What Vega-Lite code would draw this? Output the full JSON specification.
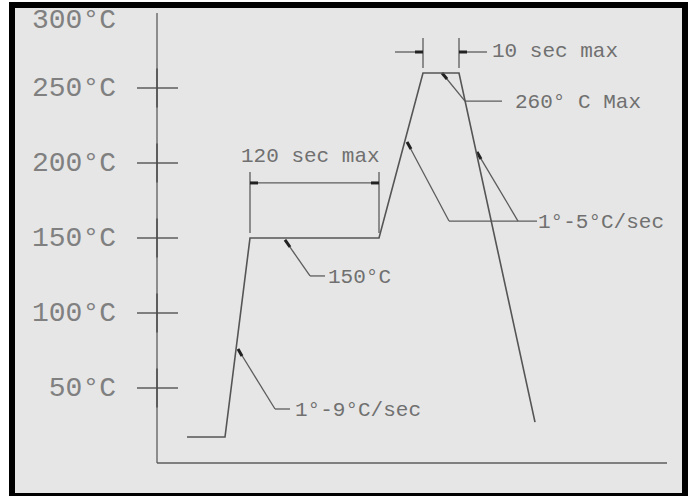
{
  "$schema": "https://vega.github.io/schema/vega-lite/v6.json",
  "width": 673,
  "height": 491,
  "autosize": {"type": "none"},
  "padding": {"left": 12, "top": 5, "right": 6, "bottom": 0},
  "background": "#ffffff",
  "config": {"view": {"fill": "#e6e6e6", "stroke": "#000000", "strokeWidth": 6}},
  "datasets": {
    "profile": [
      {"i": 1, "t": 30, "temp": 17.3},
      {"i": 2, "t": 68, "temp": 17.3},
      {"i": 3, "t": 93, "temp": 150},
      {"i": 4, "t": 222, "temp": 150},
      {"i": 5, "t": 266, "temp": 260},
      {"i": 6, "t": 302, "temp": 260},
      {"i": 7, "t": 378, "temp": 27.3}
    ],
    "segs": [
      {"t": 0, "temp": 0, "t2": 0, "temp2": 300},
      {"t": 0, "temp": 0, "t2": 510, "temp2": 0},
      {"t": -20, "temp": 50, "t2": 21, "temp2": 50},
      {"t": -20, "temp": 100, "t2": 21, "temp2": 100},
      {"t": -20, "temp": 150, "t2": 21, "temp2": 150},
      {"t": -20, "temp": 200, "t2": 21, "temp2": 200},
      {"t": -20, "temp": 250, "t2": 21, "temp2": 250},
      {"t": 93, "temp": 194, "t2": 93, "temp2": 153.3},
      {"t": 222, "temp": 194, "t2": 222, "temp2": 153.3},
      {"t": 93, "temp": 186.7, "t2": 222, "temp2": 186.7},
      {"t": 128, "temp": 148.7, "t2": 153, "temp2": 124.7},
      {"t": 153, "temp": 124.7, "t2": 168, "temp2": 124.7},
      {"t": 81, "temp": 76, "t2": 118, "temp2": 36},
      {"t": 118, "temp": 36, "t2": 133, "temp2": 36},
      {"t": 250, "temp": 214, "t2": 292, "temp2": 161.3},
      {"t": 292, "temp": 161.3, "t2": 380, "temp2": 161.3},
      {"t": 320, "temp": 207.3, "t2": 361, "temp2": 161.3},
      {"t": 285, "temp": 260, "t2": 308, "temp2": 241.3},
      {"t": 308, "temp": 241.3, "t2": 345, "temp2": 241.3},
      {"t": 266, "temp": 283.3, "t2": 266, "temp2": 263.3},
      {"t": 302, "temp": 283.3, "t2": 302, "temp2": 263.3},
      {"t": 238, "temp": 274, "t2": 266, "temp2": 274},
      {"t": 302, "temp": 274, "t2": 330, "temp2": 274}
    ],
    "heads": [
      {"t": 93, "temp": 186.7, "t2": 101, "temp2": 186.7},
      {"t": 214, "temp": 186.7, "t2": 222, "temp2": 186.7},
      {"t": 128, "temp": 148.7, "t2": 133, "temp2": 144},
      {"t": 81, "temp": 76, "t2": 85, "temp2": 71.3},
      {"t": 250, "temp": 214, "t2": 254, "temp2": 209.3},
      {"t": 320, "temp": 207.3, "t2": 324, "temp2": 202.7},
      {"t": 285, "temp": 260, "t2": 290, "temp2": 256},
      {"t": 258, "temp": 274, "t2": 266, "temp2": 274},
      {"t": 302, "temp": 274, "t2": 310, "temp2": 274}
    ],
    "axisdark": [
      {"t": 0, "temp": 37, "t2": 0, "temp2": 63},
      {"t": 0, "temp": 87, "t2": 0, "temp2": 113},
      {"t": 0, "temp": 137, "t2": 0, "temp2": 163},
      {"t": 0, "temp": 187, "t2": 0, "temp2": 213},
      {"t": 0, "temp": 237, "t2": 0, "temp2": 263}
    ],
    "ylabels": [
      {"t": -41, "temp": 295.3, "label": "300°C"},
      {"t": -41, "temp": 250, "label": "250°C"},
      {"t": -41, "temp": 200, "label": "200°C"},
      {"t": -41, "temp": 150, "label": "150°C"},
      {"t": -41, "temp": 100, "label": "100°C"},
      {"t": -41, "temp": 50, "label": "50°C"}
    ],
    "notes": [
      {"t": 84, "temp": 204.7, "label": "120 sec max"},
      {"t": 171, "temp": 124, "label": "150°C"},
      {"t": 138, "temp": 35.3, "label": "1°-9°C/sec"},
      {"t": 381, "temp": 160.7, "label": "1°-5°C/sec"},
      {"t": 358, "temp": 240.7, "label": "260° C Max"},
      {"t": 335, "temp": 274.7, "label": "10 sec max"}
    ]
  },
  "encoding": {
    "x": {"field": "t", "type": "quantitative", "scale": {"domain": [-145, 528], "nice": false, "zero": false}, "axis": null},
    "y": {"field": "temp", "type": "quantitative", "scale": {"domain": [-22, 305.333], "nice": false, "zero": false}, "axis": null}
  },
  "layer": [
    {
      "data": {"name": "segs"},
      "mark": {"type": "rule", "color": "#5c5c5c", "strokeWidth": 1.3},
      "encoding": {"x2": {"field": "t2"}, "y2": {"field": "temp2"}}
    },
    {
      "data": {"name": "axisdark"},
      "mark": {"type": "rule", "color": "#484848", "strokeWidth": 1.4},
      "encoding": {"x2": {"field": "t2"}, "y2": {"field": "temp2"}}
    },
    {
      "data": {"name": "heads"},
      "mark": {"type": "rule", "color": "#222222", "strokeWidth": 3},
      "encoding": {"x2": {"field": "t2"}, "y2": {"field": "temp2"}}
    },
    {
      "data": {"name": "profile"},
      "mark": {"type": "line", "color": "#555555", "strokeWidth": 1.6},
      "encoding": {"order": {"field": "i", "type": "quantitative"}}
    },
    {
      "data": {"name": "ylabels"},
      "mark": {"type": "text", "align": "right", "baseline": "middle", "font": "Liberation Mono", "fontSize": 28, "color": "#808080"},
      "encoding": {"text": {"field": "label"}}
    },
    {
      "data": {"name": "notes"},
      "mark": {"type": "text", "align": "left", "baseline": "middle", "font": "Liberation Mono", "fontSize": 21, "color": "#707070"},
      "encoding": {"text": {"field": "label"}}
    }
  ]
}
